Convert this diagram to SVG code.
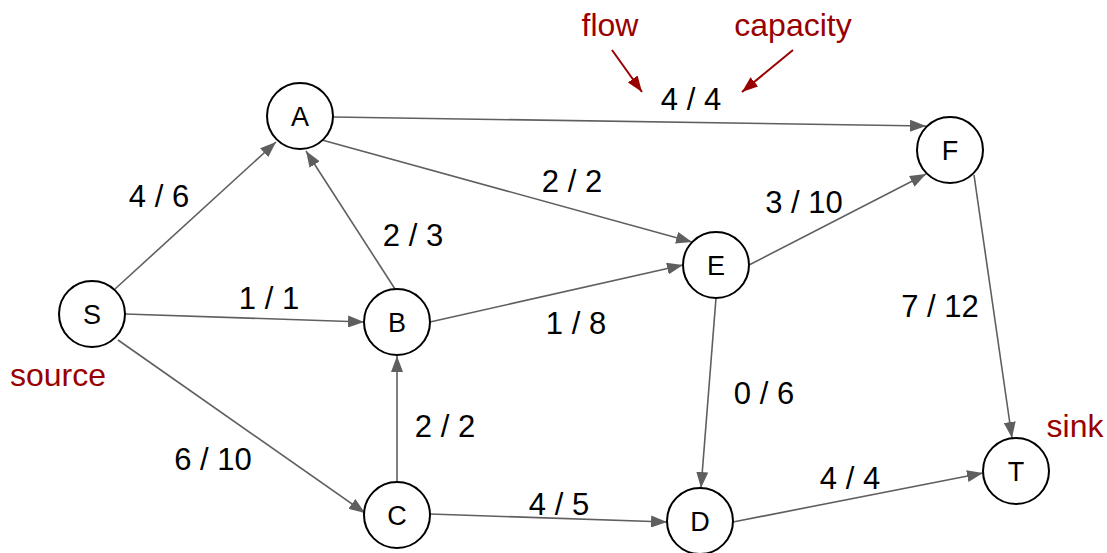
<svg xmlns="http://www.w3.org/2000/svg" width="1107" height="553" viewBox="0 0 1107 553">
  <style>
    .node circle { fill: #ffffff; stroke: #000000; stroke-width: 2; }
    .node text { font-family: "Liberation Sans", Arial, sans-serif; font-size: 27px; fill: #000000; text-anchor: middle; }
    .edge { stroke: #5f5f5f; stroke-width: 1.6; fill: none; marker-end: url(#arrow); }
    .lbl { font-family: "Liberation Sans", Arial, sans-serif; font-size: 31px; fill: #000000; text-anchor: middle; }
    .note { font-family: "Liberation Sans", Arial, sans-serif; font-size: 32px; fill: #990000; text-anchor: middle; }
    .pointer { stroke: #990000; stroke-width: 2; fill: none; marker-end: url(#redarrow); }
  </style>
  <defs>
    <marker id="arrow" markerUnits="userSpaceOnUse" markerWidth="16" markerHeight="12" refX="16" refY="6" orient="auto">
      <path d="M0,0 L16,6 L0,12 z" fill="#5f5f5f"/>
    </marker>
    <marker id="redarrow" markerUnits="userSpaceOnUse" markerWidth="16" markerHeight="12" refX="16" refY="6" orient="auto">
      <path d="M0,0 L16,6 L0,12 z" fill="#990000"/>
    </marker>
  </defs>

  <rect width="1107" height="553" fill="#ffffff"/>

  <!-- connectors -->
  <g id="edges">
    <line class="edge" x1="115" y1="289" x2="276" y2="142"/>
    <line class="edge" x1="125" y1="314" x2="364" y2="322"/>
    <line class="edge" x1="118" y1="340" x2="365" y2="513"/>
    <line class="edge" x1="333" y1="117" x2="926" y2="126"/>
    <line class="edge" x1="322" y1="140" x2="692" y2="242"/>
    <line class="edge" x1="395" y1="289" x2="306" y2="151"/>
    <line class="edge" x1="430" y1="322" x2="683" y2="265"/>
    <line class="edge" x1="397" y1="481" x2="397" y2="356"/>
    <line class="edge" x1="430" y1="514" x2="667" y2="522"/>
    <line class="edge" x1="749" y1="265" x2="926" y2="174"/>
    <line class="edge" x1="716" y1="298" x2="701" y2="488"/>
    <line class="edge" x1="974" y1="175" x2="1012" y2="438"/>
    <line class="edge" x1="733" y1="522" x2="983" y2="473"/>
  </g>

  <!-- nodes -->
  <g id="node-S" class="node"><circle cx="92" cy="314" r="33"/><text x="92" y="324">S</text></g>
  <g id="node-A" class="node"><circle cx="300" cy="116" r="33"/><text x="300" y="126">A</text></g>
  <g id="node-B" class="node"><circle cx="397" cy="322" r="33"/><text x="397" y="332">B</text></g>
  <g id="node-C" class="node"><circle cx="397" cy="515" r="33"/><text x="397" y="525">C</text></g>
  <g id="node-D" class="node"><circle cx="700" cy="521" r="33"/><text x="700" y="531">D</text></g>
  <g id="node-E" class="node"><circle cx="716" cy="265" r="33"/><text x="716" y="275">E</text></g>
  <g id="node-F" class="node"><circle cx="950" cy="150" r="33"/><text x="950" y="160">F</text></g>
  <g id="node-T" class="node"><circle cx="1016" cy="471" r="33"/><text x="1016" y="481">T</text></g>

  <!-- flow / capacity labels -->
  <g id="edge-labels">
    <text class="lbl" x="159" y="207">4 / 6</text>
    <text class="lbl" x="269" y="309">1 / 1</text>
    <text class="lbl" x="413" y="246">2 / 3</text>
    <text class="lbl" x="572" y="192">2 / 2</text>
    <text class="lbl" x="691" y="110">4 / 4</text>
    <text class="lbl" x="804" y="213">3 / 10</text>
    <text class="lbl" x="576" y="334">1 / 8</text>
    <text class="lbl" x="940" y="317">7 / 12</text>
    <text class="lbl" x="764" y="404">0 / 6</text>
    <text class="lbl" x="445" y="437">2 / 2</text>
    <text class="lbl" x="213" y="470">6 / 10</text>
    <text class="lbl" x="559" y="515">4 / 5</text>
    <text class="lbl" x="850" y="489">4 / 4</text>
  </g>

  <!-- annotations -->
  <g id="annotations">
    <text class="note" x="58" y="386">source</text>
    <text class="note" x="1075" y="437">sink</text>
    <text class="note" x="610" y="36">flow</text>
    <text class="note" x="793" y="36">capacity</text>
    <line class="pointer" x1="612" y1="50" x2="642" y2="92"/>
    <line class="pointer" x1="793" y1="50" x2="742" y2="92"/>
  </g>
</svg>
